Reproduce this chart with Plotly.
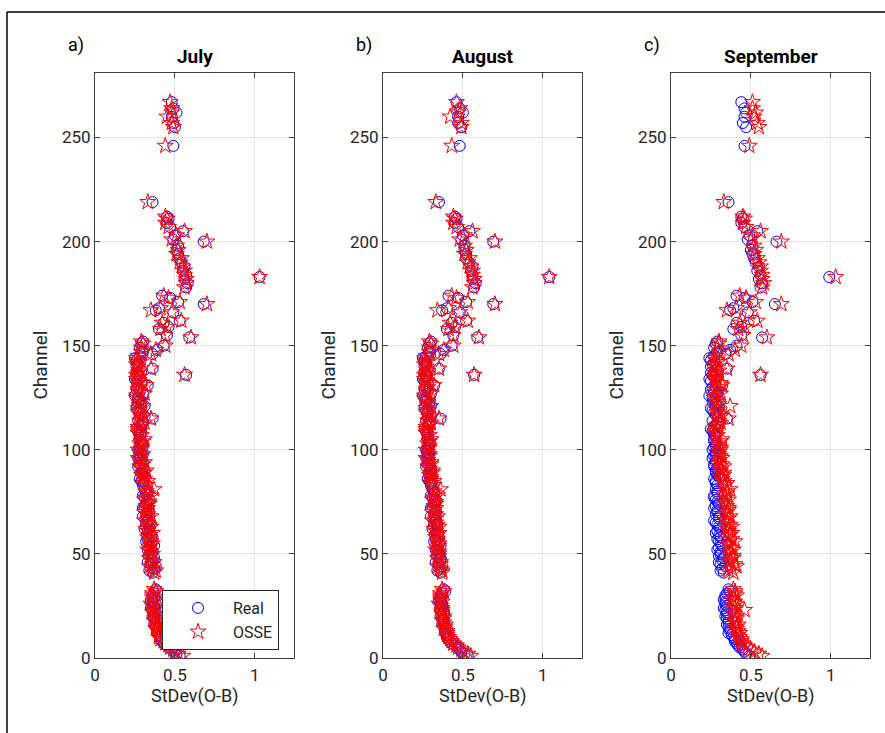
import plotly.graph_objects as go

W, H = 885, 733

channels = [1, 3, 5, 7, 9, 11, 13, 15, 17, 19, 21, 23, 25, 27, 29, 31, 33,
            41, 43, 45, 47, 49, 51, 53, 55, 57, 59, 61, 63, 65, 67, 69, 71, 73, 75, 77, 79, 81,
            83, 85, 87, 89, 91, 93, 95, 97, 99, 101, 103, 105,
            107, 109, 111, 113, 115, 117, 119, 121, 123, 125, 127, 129, 131, 133, 135, 137, 139, 141, 143, 145, 147, 149, 151,
            136, 146, 148, 150, 152, 154, 155, 158, 159, 161, 162, 166, 167, 168, 170, 171, 173, 174, 178, 180,
            182, 183, 184, 186, 188, 190, 192, 194, 196, 198, 200, 201, 203, 205, 207, 209, 211, 212, 219, 246,
            255, 257, 260, 262, 264, 267]
channels_fill = [2, 4, 6, 8, 10, 12, 14, 16, 18, 20, 22, 24, 26, 28, 30, 32,
                 42, 44, 46, 48, 50, 52, 54, 56, 58, 60, 62, 64, 66, 68, 70, 72, 74, 76, 78, 80,
                 84, 86, 88, 90, 92, 94, 96, 98, 100, 102, 104,
                 108, 110, 112, 114, 116, 118, 120, 122, 124, 126, 128, 130, 132, 134, 136, 138, 140, 142, 144]

real_jul = [0.53, 0.50, 0.47, 0.43, 0.41, 0.40, 0.39, 0.38, 0.38, 0.37, 0.37, 0.36, 0.37, 0.36, 0.37, 0.37, 0.38,
            0.36, 0.37, 0.35, 0.36, 0.34, 0.36, 0.34, 0.35, 0.33, 0.35, 0.33, 0.34, 0.32, 0.34, 0.32, 0.33, 0.31, 0.33, 0.31, 0.32, 0.31,
            0.30, 0.29, 0.31, 0.29, 0.30, 0.28, 0.29, 0.28, 0.29, 0.28, 0.29, 0.28,
            0.28, 0.27, 0.28, 0.30, 0.36, 0.29, 0.27, 0.31, 0.27, 0.27, 0.30, 0.26, 0.33, 0.26, 0.28, 0.26, 0.36, 0.27, 0.26, 0.28, 0.30, 0.28, 0.29,
            0.57, 0.36, 0.39, 0.43, 0.30, 0.59, 0.45, 0.40, 0.46, 0.43, 0.53, 0.49, 0.38, 0.40, 0.68, 0.52, 0.47, 0.42, 0.57, 0.58,
            0.56, 1.03, 0.57, 0.55, 0.56, 0.54, 0.53, 0.52, 0.51, 0.52, 0.68, 0.49, 0.50, 0.55, 0.47, 0.45, 0.46, 0.45, 0.36, 0.49,
            0.50, 0.49, 0.48, 0.51, 0.49, 0.48]
osse_jul = [0.55, 0.50, 0.47, 0.44, 0.41, 0.40, 0.40, 0.39, 0.38, 0.38, 0.37, 0.37, 0.36, 0.37, 0.36, 0.36, 0.37,
            0.37, 0.36, 0.36, 0.35, 0.35, 0.35, 0.34, 0.36, 0.34, 0.34, 0.33, 0.35, 0.33, 0.33, 0.33, 0.32, 0.32, 0.34, 0.32, 0.33, 0.37,
            0.32, 0.33, 0.30, 0.31, 0.29, 0.30, 0.28, 0.29, 0.28, 0.29, 0.28, 0.31,
            0.29, 0.28, 0.27, 0.31, 0.35, 0.28, 0.28, 0.30, 0.28, 0.26, 0.31, 0.27, 0.32, 0.27, 0.27, 0.27, 0.35, 0.26, 0.27, 0.27, 0.29, 0.29, 0.30,
            0.56, 0.35, 0.38, 0.44, 0.29, 0.60, 0.44, 0.41, 0.45, 0.42, 0.54, 0.48, 0.35, 0.41, 0.70, 0.53, 0.46, 0.43, 0.56, 0.57,
            0.57, 1.03, 0.56, 0.56, 0.55, 0.53, 0.54, 0.51, 0.52, 0.51, 0.70, 0.48, 0.51, 0.56, 0.46, 0.44, 0.45, 0.44, 0.33, 0.44,
            0.49, 0.48, 0.45, 0.48, 0.48, 0.47]
real_jul_fill = [0.51, 0.48, 0.45, 0.42, 0.41, 0.39, 0.40, 0.37, 0.39, 0.36, 0.38, 0.35, 0.38, 0.35, 0.36, 0.39,
                 0.34, 0.38, 0.33, 0.37, 0.35, 0.33, 0.37, 0.32, 0.36, 0.34, 0.31, 0.35, 0.33, 0.30, 0.34, 0.30, 0.32, 0.34, 0.30, 0.33,
                 0.31, 0.28, 0.30, 0.31, 0.27, 0.30, 0.27, 0.30, 0.27, 0.30, 0.29,
                 0.29, 0.26, 0.29, 0.27, 0.31, 0.28, 0.26, 0.29, 0.28, 0.25, 0.28, 0.27, 0.29, 0.25, 0.27, 0.29, 0.26, 0.28, 0.25]
osse_jul_fill = [0.52, 0.49, 0.46, 0.43, 0.40, 0.41, 0.38, 0.39, 0.37, 0.38, 0.36, 0.37, 0.35, 0.37, 0.36, 0.38,
                 0.38, 0.34, 0.37, 0.34, 0.36, 0.33, 0.35, 0.35, 0.33, 0.36, 0.32, 0.34, 0.31, 0.35, 0.31, 0.33, 0.34, 0.31, 0.35, 0.32,
                 0.30, 0.31, 0.29, 0.32, 0.28, 0.31, 0.27, 0.30, 0.27, 0.29, 0.30,
                 0.27, 0.27, 0.29, 0.28, 0.30, 0.27, 0.27, 0.28, 0.29, 0.26, 0.27, 0.28, 0.30, 0.26, 0.26, 0.28, 0.27, 0.27, 0.26]

real_aug = [0.53, 0.49, 0.47, 0.43, 0.41, 0.40, 0.39, 0.39, 0.38, 0.37, 0.38, 0.36, 0.37, 0.36, 0.36, 0.37, 0.38,
            0.36, 0.36, 0.35, 0.36, 0.34, 0.35, 0.34, 0.35, 0.33, 0.34, 0.33, 0.34, 0.32, 0.33, 0.32, 0.33, 0.31, 0.32, 0.31, 0.32, 0.31,
            0.30, 0.29, 0.30, 0.29, 0.30, 0.28, 0.29, 0.28, 0.28, 0.28, 0.29, 0.28,
            0.28, 0.27, 0.28, 0.29, 0.36, 0.28, 0.27, 0.30, 0.27, 0.26, 0.30, 0.26, 0.32, 0.26, 0.27, 0.26, 0.35, 0.27, 0.26, 0.27, 0.29, 0.28, 0.29,
            0.57, 0.36, 0.38, 0.43, 0.30, 0.59, 0.44, 0.40, 0.45, 0.43, 0.52, 0.48, 0.37, 0.40, 0.69, 0.52, 0.47, 0.41, 0.57, 0.58,
            0.56, 1.04, 0.56, 0.55, 0.56, 0.54, 0.52, 0.52, 0.51, 0.51, 0.69, 0.49, 0.50, 0.54, 0.47, 0.45, 0.46, 0.45, 0.35, 0.48,
            0.49, 0.47, 0.47, 0.50, 0.48, 0.46]
osse_aug = [0.55, 0.50, 0.47, 0.44, 0.42, 0.40, 0.40, 0.39, 0.38, 0.38, 0.37, 0.37, 0.36, 0.37, 0.36, 0.36, 0.37,
            0.37, 0.36, 0.36, 0.35, 0.35, 0.35, 0.34, 0.35, 0.34, 0.34, 0.33, 0.35, 0.33, 0.33, 0.33, 0.32, 0.32, 0.33, 0.32, 0.33, 0.36,
            0.32, 0.32, 0.30, 0.31, 0.29, 0.30, 0.28, 0.29, 0.28, 0.29, 0.28, 0.30,
            0.29, 0.28, 0.27, 0.30, 0.35, 0.28, 0.28, 0.30, 0.28, 0.26, 0.30, 0.27, 0.32, 0.27, 0.27, 0.27, 0.35, 0.26, 0.27, 0.27, 0.29, 0.29, 0.30,
            0.57, 0.35, 0.38, 0.44, 0.29, 0.60, 0.44, 0.41, 0.45, 0.42, 0.53, 0.48, 0.34, 0.41, 0.70, 0.53, 0.46, 0.43, 0.56, 0.57,
            0.57, 1.04, 0.56, 0.56, 0.55, 0.53, 0.54, 0.51, 0.52, 0.51, 0.70, 0.48, 0.51, 0.56, 0.46, 0.44, 0.45, 0.44, 0.33, 0.43,
            0.49, 0.49, 0.42, 0.47, 0.48, 0.46]
real_aug_fill = [0.51, 0.48, 0.45, 0.42, 0.40, 0.39, 0.40, 0.37, 0.38, 0.36, 0.38, 0.36, 0.37, 0.35, 0.36, 0.39,
                 0.34, 0.37, 0.33, 0.36, 0.35, 0.33, 0.36, 0.32, 0.35, 0.34, 0.31, 0.34, 0.33, 0.30, 0.33, 0.30, 0.32, 0.33, 0.30, 0.32,
                 0.30, 0.28, 0.30, 0.30, 0.27, 0.29, 0.27, 0.29, 0.27, 0.29, 0.29,
                 0.28, 0.26, 0.29, 0.27, 0.30, 0.28, 0.26, 0.29, 0.27, 0.25, 0.28, 0.27, 0.28, 0.25, 0.27, 0.28, 0.26, 0.27, 0.25]
osse_aug_fill = [0.53, 0.49, 0.46, 0.43, 0.41, 0.40, 0.38, 0.39, 0.37, 0.38, 0.37, 0.37, 0.35, 0.36, 0.36, 0.38,
                 0.37, 0.34, 0.36, 0.34, 0.35, 0.33, 0.35, 0.34, 0.33, 0.35, 0.32, 0.34, 0.31, 0.34, 0.31, 0.33, 0.33, 0.31, 0.34, 0.32,
                 0.30, 0.30, 0.29, 0.31, 0.28, 0.30, 0.27, 0.29, 0.27, 0.29, 0.29,
                 0.27, 0.27, 0.28, 0.28, 0.30, 0.27, 0.27, 0.28, 0.28, 0.26, 0.27, 0.28, 0.29, 0.26, 0.26, 0.28, 0.27, 0.27, 0.26]

real_sep = [0.49, 0.46, 0.43, 0.41, 0.40, 0.38, 0.37, 0.36, 0.36, 0.35, 0.35, 0.34, 0.35, 0.34, 0.34, 0.35, 0.36,
            0.33, 0.32, 0.31, 0.32, 0.30, 0.31, 0.30, 0.31, 0.29, 0.30, 0.29, 0.30, 0.28, 0.30, 0.28, 0.29, 0.28, 0.29, 0.27, 0.29, 0.28,
            0.29, 0.28, 0.30, 0.28, 0.29, 0.27, 0.28, 0.27, 0.28, 0.27, 0.28, 0.27,
            0.27, 0.26, 0.27, 0.29, 0.35, 0.28, 0.26, 0.30, 0.26, 0.26, 0.29, 0.25, 0.32, 0.25, 0.27, 0.25, 0.35, 0.26, 0.25, 0.27, 0.29, 0.27, 0.28,
            0.56, 0.34, 0.37, 0.41, 0.29, 0.57, 0.44, 0.39, 0.44, 0.41, 0.52, 0.48, 0.37, 0.39, 0.65, 0.51, 0.46, 0.41, 0.56, 0.57,
            0.55, 0.99, 0.56, 0.54, 0.55, 0.53, 0.52, 0.51, 0.50, 0.51, 0.66, 0.48, 0.49, 0.54, 0.46, 0.44, 0.45, 0.44, 0.36, 0.46,
            0.47, 0.45, 0.46, 0.47, 0.46, 0.44]
osse_sep = [0.57, 0.52, 0.48, 0.45, 0.44, 0.42, 0.42, 0.41, 0.40, 0.41, 0.40, 0.46, 0.39, 0.40, 0.39, 0.40, 0.39,
            0.39, 0.38, 0.40, 0.37, 0.39, 0.37, 0.38, 0.36, 0.38, 0.37, 0.36, 0.38, 0.35, 0.36, 0.34, 0.36, 0.35, 0.33, 0.34, 0.35, 0.37,
            0.34, 0.33, 0.32, 0.33, 0.31, 0.32, 0.30, 0.31, 0.30, 0.31, 0.30, 0.32,
            0.29, 0.28, 0.28, 0.31, 0.36, 0.30, 0.29, 0.37, 0.29, 0.27, 0.31, 0.28, 0.32, 0.28, 0.28, 0.28, 0.35, 0.27, 0.28, 0.28, 0.30, 0.29, 0.30,
            0.56, 0.36, 0.40, 0.44, 0.30, 0.60, 0.45, 0.42, 0.46, 0.43, 0.54, 0.49, 0.35, 0.41, 0.69, 0.53, 0.47, 0.43, 0.57, 0.58,
            0.57, 1.03, 0.57, 0.56, 0.56, 0.55, 0.54, 0.52, 0.53, 0.52, 0.69, 0.50, 0.51, 0.56, 0.47, 0.45, 0.46, 0.45, 0.33, 0.49,
            0.55, 0.54, 0.52, 0.53, 0.51, 0.51]
real_sep_fill = [0.47, 0.45, 0.42, 0.40, 0.39, 0.36, 0.37, 0.35, 0.36, 0.34, 0.35, 0.33, 0.34, 0.33, 0.34, 0.37,
                 0.31, 0.34, 0.30, 0.33, 0.31, 0.29, 0.32, 0.30, 0.31, 0.28, 0.31, 0.29, 0.27, 0.30, 0.29, 0.27, 0.30, 0.28, 0.27, 0.29,
                 0.28, 0.27, 0.29, 0.28, 0.27, 0.28, 0.26, 0.28, 0.26, 0.28, 0.27,
                 0.27, 0.25, 0.28, 0.26, 0.30, 0.27, 0.25, 0.28, 0.27, 0.24, 0.27, 0.26, 0.28, 0.24, 0.26, 0.28, 0.25, 0.27, 0.24]
osse_sep_fill = [0.55, 0.50, 0.46, 0.44, 0.43, 0.43, 0.41, 0.42, 0.40, 0.41, 0.39, 0.40, 0.41, 0.38, 0.41, 0.40,
                 0.36, 0.41, 0.37, 0.39, 0.36, 0.39, 0.36, 0.40, 0.35, 0.38, 0.36, 0.37, 0.34, 0.37, 0.35, 0.36, 0.34, 0.36, 0.33, 0.35,
                 0.35, 0.32, 0.33, 0.31, 0.33, 0.30, 0.32, 0.30, 0.31, 0.30, 0.31,
                 0.28, 0.29, 0.29, 0.30, 0.31, 0.29, 0.28, 0.30, 0.29, 0.27, 0.29, 0.30, 0.31, 0.28, 0.28, 0.30, 0.28, 0.29, 0.27]

months = ["July", "August", "September"]
panel_letters = ["a)", "b)", "c)"]
real_series = [real_jul + real_jul_fill, real_aug + real_aug_fill, real_sep + real_sep_fill]
osse_series = [osse_jul + osse_jul_fill, osse_aug + osse_aug_fill, osse_sep + osse_sep_fill]
all_channels = channels + channels_fill
x_ticks = [0, 0.5, 1]
x_tick_text = ["0", "0.5", "1"]
y_ticks = [0, 50, 100, 150, 200, 250]

# pixel layout of panels
panel_left = [95, 383, 671]
panel_w = 199
plot_top, plot_bottom = 73, 658


def fx(px):
    return px / W


def fy(py):
    return 1 - py / H


FONT = "Roboto, Arial, sans-serif"
AX_COLOR = "#404040"
TXT = "#262626"

fig = go.Figure()
for i in range(3):
    xa = "x" if i == 0 else f"x{i+1}"
    ya = "y" if i == 0 else f"y{i+1}"
    fig.add_trace(go.Scatter(
        x=real_series[i], y=all_channels, mode="markers", name="Real",
        xaxis=xa, yaxis=ya, showlegend=(i == 0),
        marker=dict(symbol="circle-open", size=11, color="#0000FF", line=dict(width=1, color="#0000FF"))))
    fig.add_trace(go.Scatter(
        x=osse_series[i], y=all_channels, mode="markers", name="OSSE",
        xaxis=xa, yaxis=ya, showlegend=(i == 0),
        marker=dict(symbol="star-open", size=12, color="#FF0000", line=dict(width=1, color="#FF0000"))))

layout = dict(
    width=W, height=H,
    margin=dict(l=0, r=0, t=0, b=0, pad=0, autoexpand=False),
    paper_bgcolor="white", plot_bgcolor="white",
    font=dict(family=FONT, size=17, color=TXT),
    showlegend=True,
    legend=dict(x=fx(162), y=fy(590), xanchor="left", yanchor="top",
                bgcolor="white", bordercolor=TXT, borderwidth=1,
                font=dict(family=FONT, size=16, color=TXT),
                itemwidth=60, tracegroupgap=0),
)
annotations = []
for i in range(3):
    xk = "xaxis" if i == 0 else f"xaxis{i+1}"
    yk = "yaxis" if i == 0 else f"yaxis{i+1}"
    ya = "y" if i == 0 else f"y{i+1}"
    xa = "x" if i == 0 else f"x{i+1}"
    left = panel_left[i]
    right = left + panel_w
    common = dict(showline=True, linecolor=AX_COLOR, linewidth=1, mirror="ticks",
                  ticks="inside", ticklen=5, tickcolor=AX_COLOR, tickwidth=1,
                  showgrid=True, gridcolor="#e3e3e3", gridwidth=1, zeroline=False,
                  automargin=False,
                  tickfont=dict(family=FONT, size=17, color=TXT))
    layout[xk] = dict(domain=[fx(left), fx(right)], range=[0, 1.245], anchor=ya,
                      tickvals=x_ticks, ticktext=x_tick_text, ticklabelstandoff=2, **common)
    layout[yk] = dict(domain=[fy(plot_bottom), fy(plot_top)], range=[0, 281], anchor=xa,
                      tickvals=y_ticks, **common)
    cx = (left + right) / 2
    annotations.append(dict(text=f"<b>{months[i]}</b>", x=fx(cx), y=fy(57), xref="paper", yref="paper",
                            showarrow=False, font=dict(family=FONT, size=19, color="#000000"),
                            xanchor="center", yanchor="middle"))
    annotations.append(dict(text=panel_letters[i], x=fx(left - 29), y=fy(45), xref="paper", yref="paper",
                            showarrow=False, font=dict(family=FONT, size=18, color="#000000"),
                            xanchor="left", yanchor="middle"))
    annotations.append(dict(text="Channel", x=fx(left - 55), y=fy((plot_top + plot_bottom) / 2),
                            xref="paper", yref="paper", textangle=-90, showarrow=False,
                            font=dict(family=FONT, size=19, color=TXT),
                            xanchor="center", yanchor="middle"))
    annotations.append(dict(text="StDev(O-B)", x=fx(cx), y=fy(696), xref="paper", yref="paper",
                            showarrow=False, font=dict(family=FONT, size=18, color=TXT),
                            xanchor="center", yanchor="middle"))
layout["annotations"] = annotations
layout["shapes"] = [
    dict(type="line", xref="paper", yref="paper", x0=fx(7), x1=fx(W + 5), y0=fy(12), y1=fy(12),
         line=dict(color="#000000", width=1.5)),
    dict(type="line", xref="paper", yref="paper", x0=fx(7), x1=fx(7), y0=fy(12), y1=fy(H + 20),
         line=dict(color="#000000", width=1.5)),
]
fig.update_layout(**layout)
fig.write_html("out.html", config={"displayModeBar": False},
               post_script="document.body.style.margin='0px';document.body.style.overflow='hidden';")
